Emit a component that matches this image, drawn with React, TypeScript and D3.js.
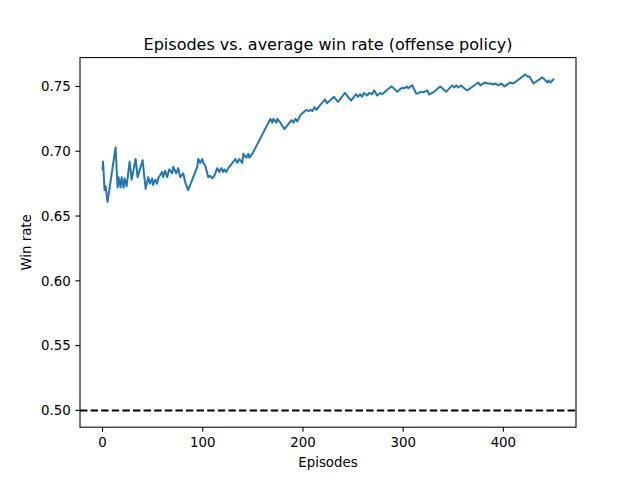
import React from "react";
import * as d3 from "d3";

const episodes: number[] = [
  0, 0.5, 2, 3, 5, 13, 15, 16, 18, 19, 21, 22, 24, 27, 29, 33, 35, 40, 43, 45.5,
  47.5, 49.5, 50.5, 52.5, 54.5, 55.5, 59.5, 60.5, 62.5, 64.5, 66.5, 69.5, 70.5, 73.5, 75.5, 77.5,
  80.5, 82.5, 85.5, 87.5, 90.5, 94.5, 95.5, 97.5, 99.5, 100.5, 102.5, 105.5, 107.5, 109.5, 111.5,
  114.5, 116.5, 118.5, 120.5, 121.5, 123.5, 125.5, 132.5, 134.5, 136.5, 139.5, 140.5, 143.5, 145.5,
  146.5, 149.5, 167.5, 169.5, 170.5, 173.5, 174.5, 177.5, 181.5, 184.5, 188.5, 190.5, 192.5, 194.5,
  197.5, 203.5, 205.5, 207.5, 209.5, 211.5, 213.5, 216.5, 222, 224, 231, 235, 242, 248, 253, 255,
  257, 259, 261, 264, 266, 269, 271, 274, 277, 279, 288, 290, 294, 299, 301, 304, 305, 309, 313,
  315, 318, 320, 324, 326, 330, 337, 343, 349, 351, 353, 355, 358, 360, 364, 375, 377, 382, 384,
  387, 390, 392, 395, 398, 401, 407, 410, 422, 424, 426, 430, 439, 444, 445, 447, 450,
];

const winRate: number[] = [
  0.686, 0.692, 0.67, 0.673, 0.661, 0.703, 0.672, 0.68, 0.672, 0.68, 0.672, 0.679, 0.673, 0.692,
  0.678, 0.694, 0.68, 0.693, 0.671, 0.68, 0.675, 0.679, 0.674, 0.678, 0.675, 0.679, 0.684, 0.68,
  0.685, 0.68, 0.686, 0.683, 0.688, 0.683, 0.687, 0.68, 0.683, 0.676, 0.67, 0.674, 0.68, 0.688,
  0.694, 0.691, 0.694, 0.691, 0.689, 0.68, 0.681, 0.679, 0.681, 0.687, 0.684, 0.687, 0.684, 0.686,
  0.684, 0.687, 0.694, 0.691, 0.694, 0.691, 0.698, 0.695, 0.698, 0.695, 0.698, 0.725, 0.722, 0.725,
  0.722, 0.725, 0.722, 0.717, 0.72, 0.724, 0.722, 0.725, 0.723, 0.728, 0.732, 0.731, 0.732, 0.731,
  0.734, 0.732, 0.735, 0.74, 0.737, 0.742, 0.738, 0.745, 0.739, 0.744, 0.742, 0.744, 0.742, 0.745,
  0.743, 0.745, 0.744, 0.747, 0.743, 0.745, 0.744, 0.75, 0.749, 0.746, 0.749, 0.7485, 0.75, 0.7485,
  0.751, 0.7446, 0.7446, 0.746, 0.7454, 0.747, 0.7438, 0.7454, 0.75, 0.746, 0.7508, 0.7492, 0.7508,
  0.7492, 0.7508, 0.7492, 0.7469, 0.7531, 0.7508, 0.7531, 0.7523, 0.7523, 0.7515, 0.7523, 0.7508,
  0.7523, 0.75, 0.7531, 0.7523, 0.7593, 0.7577, 0.7577, 0.7523, 0.757, 0.7531, 0.7546, 0.7531, 0.7554,
];

const baselineRate = 0.5;
const xTicks: number[] = [0, 100, 200, 300, 400];
const yTicks: number[] = [0.5, 0.55, 0.6, 0.65, 0.7, 0.75];
const title = "Episodes vs. average win rate (offense policy)";
const xLabel = "Episodes";
const yLabel = "Win rate";

const W = 640;
const H = 480;
const L = 80;
const R = 576;
const T = 57.6;
const B = 427.2;
const font = "DejaVu Sans, sans-serif";

export default function App() {
  const xMin = d3.min(episodes)!;
  const xMax = d3.max(episodes)!;
  const xPad = (xMax - xMin) * 0.05;
  const yMin = Math.min(baselineRate, d3.min(winRate)!);
  const yMax = Math.max(baselineRate, d3.max(winRate)!);
  const yPad = (yMax - yMin) * 0.05;

  const x = d3.scaleLinear().domain([xMin - xPad, xMax + xPad]).range([L, R]);
  const y = d3.scaleLinear().domain([yMin - yPad, yMax + yPad]).range([B, T]);

  const pts = episodes.map((e, i) => [e, winRate[i]] as [number, number]);
  const line = d3
    .line<[number, number]>()
    .x((d) => x(d[0]))
    .y((d) => y(d[1]));

  const tickLen = 4.67;
  const fmt = d3.format(".2f");

  return (
    <svg
      width={W}
      height={H}
      style={{ position: "absolute", left: 0, top: 0, background: "#fff" }}
      fontFamily={font}
    >
      <rect x={0} y={0} width={W} height={H} fill="#fff" />
      <path d={line(pts) ?? ""} fill="none" stroke="#1f77b4" strokeWidth={2} strokeLinejoin="round" strokeLinecap="square" />
      <line
        x1={L}
        x2={R}
        y1={y(baselineRate)}
        y2={y(baselineRate)}
        stroke="#000"
        strokeWidth={2}
        strokeDasharray="7.4,3.2"
      />
      <rect x={L} y={T} width={R - L} height={B - T} fill="none" stroke="#000" strokeWidth={1.07} />
      {xTicks.map((t) => (
        <g key={"x" + t}>
          <line x1={x(t)} x2={x(t)} y1={B} y2={B + tickLen} stroke="#000" strokeWidth={1.07} />
          <text x={x(t)} y={447} fontSize={13.33} textAnchor="middle" fill="#000">
            {t}
          </text>
        </g>
      ))}
      {yTicks.map((t) => (
        <g key={"y" + t}>
          <line x1={L - tickLen} x2={L} y1={y(t)} y2={y(t)} stroke="#000" strokeWidth={1.07} />
          <text x={L - 2 * tickLen} y={y(t) + 4.8} fontSize={13.33} textAnchor="end" fill="#000">
            {fmt(t)}
          </text>
        </g>
      ))}
      <text x={(L + R) / 2} y={49.6} fontSize={16} textAnchor="middle" fill="#000">
        {title}
      </text>
      <text x={(L + R) / 2} y={467} fontSize={13.33} textAnchor="middle" fill="#000">
        {xLabel}
      </text>
      <text
        transform={`translate(31,${(T + B) / 2}) rotate(-90)`}
        fontSize={13.33}
        textAnchor="middle"
        fill="#000"
      >
        {yLabel}
      </text>
    </svg>
  );
}
